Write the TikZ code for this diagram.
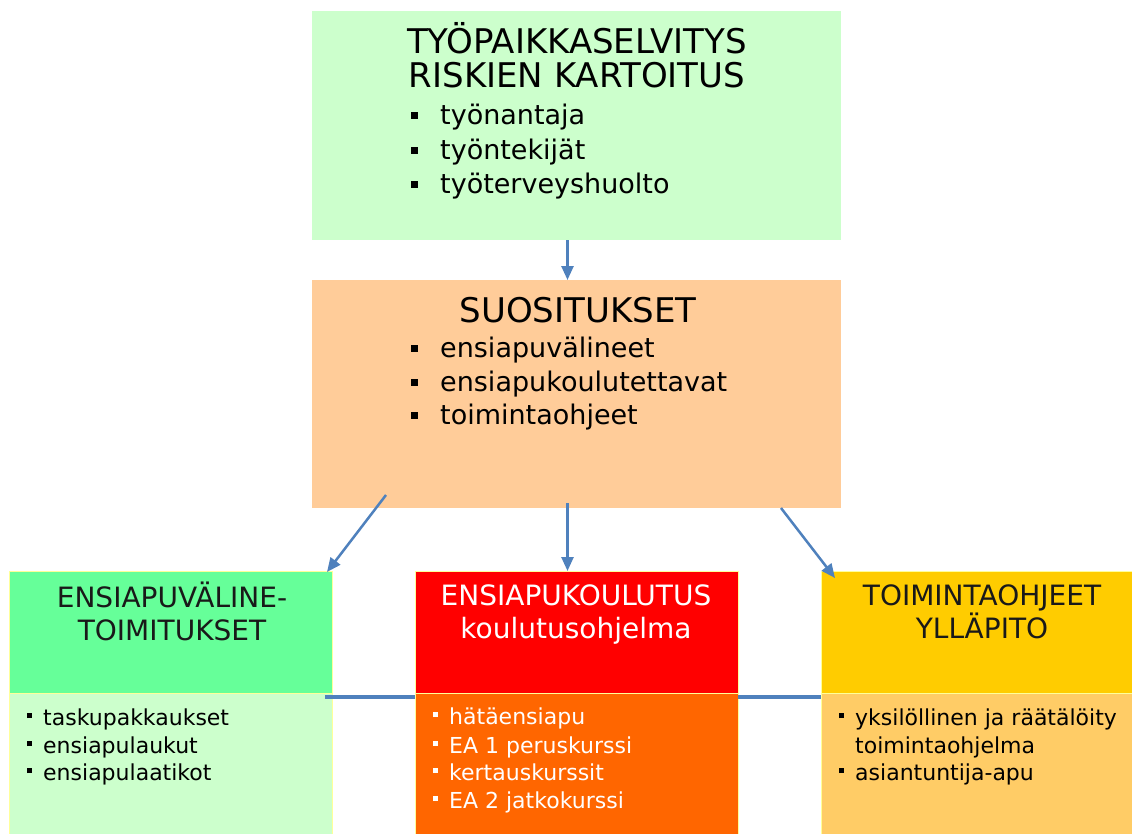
\documentclass[tikz,border=0pt]{standalone}
\usepackage{fontspec}
\setmainfont{DejaVu Sans}
\usetikzlibrary{arrows.meta}
\definecolor{paleGreen}{HTML}{CCFFCC}
\definecolor{peach}{HTML}{FFCC99}
\definecolor{brightGreen}{HTML}{66FF99}
\definecolor{hdrRed}{HTML}{FF0000}
\definecolor{bodyOrange}{HTML}{FF6600}
\definecolor{hdrGold}{HTML}{FFCC00}
\definecolor{bodyGold}{HTML}{FFCC66}
\definecolor{edgeYellow}{HTML}{FFFF99}
\definecolor{arrowBlue}{HTML}{4F81BD}
\newcommand{\bigbul}{\makebox[29pt][l]{\rule[5pt]{7pt}{7pt}}}
\newcommand{\smallbul}{\makebox[16pt][l]{\rule[7pt]{5pt}{5pt}}}
\begin{document}
\begin{tikzpicture}[x=1pt,y=-1pt,
  box/.style={rectangle, inner sep=0pt, outer sep=0pt, anchor=north west},
  lowbox/.style={box, draw=edgeYellow, line width=1pt, minimum width=323pt},
  ttl/.style={font=\fontsize{34}{40}\selectfont, anchor=base, inner sep=0pt},
  itm/.style={font=\fontsize{27}{34}\selectfont, anchor=base west, inner sep=0pt},
  hdr/.style={font=\fontsize{28}{33}\selectfont, anchor=base, inner sep=0pt, text=black!90},
  sitm/.style={font=\fontsize{22}{28}\selectfont, anchor=base west, inner sep=0pt},
  arr/.style={draw=arrowBlue, line width=2.5pt, -{Triangle[length=14pt,width=12pt]}},
  link/.style={draw=arrowBlue, line width=4pt}
]
\useasboundingbox (0,0) rectangle (1132,833);
\clip (0,0) rectangle (1132,833);
\fill[white] (0,0) rectangle (1132,833);

% upper boxes
\node[box, fill=paleGreen, minimum width=529pt, minimum height=229pt] (top) at (312,11) {};
\node[box, fill=peach, minimum width=529pt, minimum height=228pt] (mid) at (312,280) {};

% lower boxes
\node[lowbox, fill=brightGreen, minimum height=122pt] (lh) at (9,571) {};
\node[lowbox, fill=paleGreen, minimum height=160pt] (lb) at (9,693) {};
\node[lowbox, fill=hdrRed, minimum height=122pt] (mh) at (415,571) {};
\node[lowbox, fill=bodyOrange, minimum height=160pt] (mb) at (415,693) {};
\node[lowbox, fill=hdrGold, minimum height=122pt] (rh) at (821,571) {};
\node[lowbox, fill=bodyGold, minimum height=160pt] (rb) at (821,693) {};

% top box text
\node[ttl] (t1) at (577,53) {TYÖPAIKKASELVITYS};
\node[ttl] (t2) at (577,87) {RISKIEN KARTOITUS};
\node[itm] (t3) at (411,124) {\bigbul työnantaja};
\node[itm] (t4) at (411,159) {\bigbul työntekijät};
\node[itm] (t5) at (411,193) {\bigbul työterveyshuolto};

% middle box text
\node[ttl] (m1) at (578,322) {SUOSITUKSET};
\node[itm] (m2) at (411,357) {\bigbul ensiapuvälineet};
\node[itm] (m3) at (411,391) {\bigbul ensiapukoulutettavat};
\node[itm] (m4) at (411,424) {\bigbul toimintaohjeet};

% left lower text
\node[hdr] (l1) at (172,607) {ENSIAPUVÄLINE-};
\node[hdr] (l2) at (172,640) {TOIMITUKSET};
\node[sitm] (l3) at (27,725) {\smallbul taskupakkaukset};
\node[sitm] (l4) at (27,753) {\smallbul ensiapulaukut};
\node[sitm] (l5) at (27,780) {\smallbul ensiapulaatikot};

% middle lower text
\node[hdr, text=white] (c1) at (576,605) {ENSIAPUKOULUTUS};
\node[hdr, text=white] (c2) at (576,638) {koulutusohjelma};
\node[sitm, text=white] (c3) at (433,724) {\color{white}\smallbul hätäensiapu};
\node[sitm, text=white] (c4) at (433,753) {\color{white}\smallbul EA 1 peruskurssi};
\node[sitm, text=white] (c5) at (433,780) {\color{white}\smallbul kertauskurssit};
\node[sitm, text=white] (c6) at (433,808) {\color{white}\smallbul EA 2 jatkokurssi};

% right lower text
\node[hdr] (r1) at (982,605) {TOIMINTAOHJEET};
\node[hdr] (r2) at (982,638) {YLLÄPITO};
\node[sitm] (r3) at (839,725) {\smallbul yksilöllinen ja räätälöity};
\node[sitm] (r4) at (855,753) {toimintaohjelma};
\node[sitm] (r5) at (839,780) {\smallbul asiantuntija-apu};

% connectors
\draw[arr] ([shift={(-9,0)}]top.south) -- ([shift={(-9,0)}]mid.north);
\draw[arr] ([shift={(-9,-5)}]mid.south) -- ([shift={(-9,0)}]mh.north);
\draw[arr] ([shift={(74,-13)}]mid.south west) -- ([shift={(-5,1)}]lh.north east);
\draw[arr] ([shift={(-60,0)}]mid.south east) -- ([shift={(14,7)}]rh.north west);
\draw[link] ([shift={(-7,4)}]lh.south east) -- ([shift={(0,4)}]mh.south west);
\draw[link] ([shift={(0,4)}]mh.south east) -- ([shift={(0,4)}]rh.south west);
\end{tikzpicture}
\end{document}
